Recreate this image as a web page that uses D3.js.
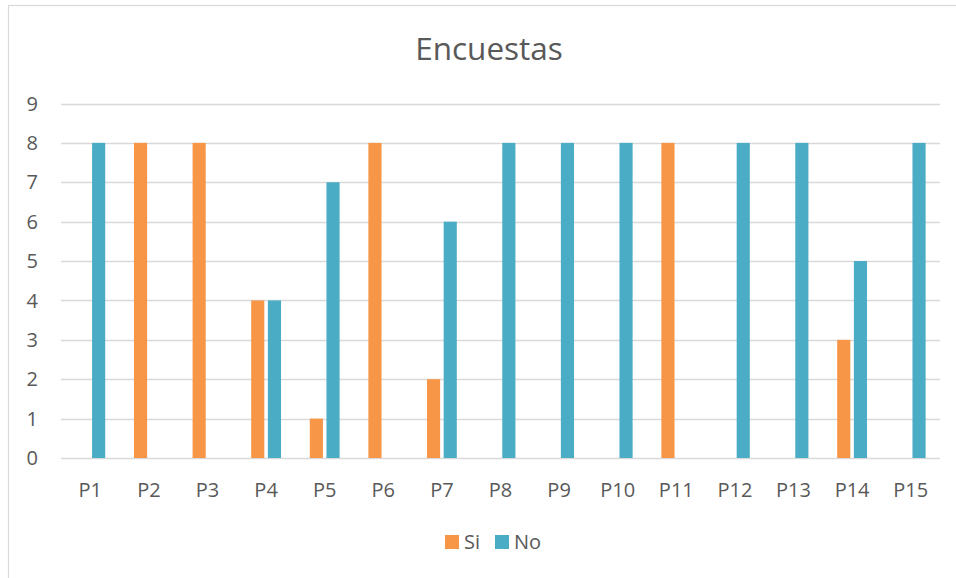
<!DOCTYPE html>
<html>
<head>
<meta charset="utf-8">
<script src="https://cdn.jsdelivr.net/npm/d3@7"></script>
<style>
  html, body { margin: 0; padding: 0; background: #fff; }
  svg { display: block; font-family: "Open Sans", sans-serif; }
</style>
</head>
<body>
<svg id="chart" width="956" height="578"></svg>
<script>
// Survey answers per question
const categories = ["P1","P2","P3","P4","P5","P6","P7","P8","P9","P10","P11","P12","P13","P14","P15"];
const seriesNames = ["Si", "No"];
const siValues = [0, 8, 8, 4, 1, 8, 2, 0, 0, 0, 8, 0, 0, 3, 0];
const noValues = [8, 0, 0, 4, 7, 0, 6, 8, 8, 8, 0, 8, 8, 5, 8];
const yTicks = [0, 1, 2, 3, 4, 5, 6, 7, 8, 9];
const colors = { Si: "#F79646", No: "#4BACC6" };

const svg = d3.select("#chart");
const textColor = "#595959";
const gridColor = "#d9d9d9";

// outer chart frame
svg.append("rect")
  .attr("x", 8.5).attr("y", 5.5)
  .attr("width", 960).attr("height", 590)
  .attr("fill", "#fff")
  .attr("stroke", "#d9d9d9").attr("stroke-width", 1.2);

const plot = { left: 61, right: 940, top: 103.5, bottom: 458 };

const y = d3.scaleLinear().domain([0, 9]).range([plot.bottom, plot.top]);

// category bands: two bars + gap take ~51% of each slot
const groupPad = 0.491;
const x0 = d3.scaleBand().domain(categories)
  .range([plot.left, plot.right])
  .paddingInner(groupPad).paddingOuter(groupPad / 2);
const x1 = d3.scaleBand().domain(seriesNames)
  .range([0, x0.bandwidth()])
  .paddingInner(0.2126);

// gridlines
svg.append("g")
  .selectAll("line")
  .data(yTicks)
  .join("line")
  .attr("x1", plot.left).attr("x2", plot.right)
  .attr("y1", d => Math.round(y(d)) + 0.5)
  .attr("y2", d => Math.round(y(d)) + 0.5)
  .attr("stroke", gridColor)
  .attr("stroke-width", 1.3);

// y tick labels
svg.append("g")
  .selectAll("text")
  .data(yTicks)
  .join("text")
  .attr("x", 38)
  .attr("y", d => y(d))
  .attr("dy", "0.36em")
  .attr("text-anchor", "end")
  .attr("font-size", 20)
  .attr("fill", textColor)
  .text(d => d);

// bars
const rows = categories.map((c, i) => ({ cat: c, Si: siValues[i], No: noValues[i] }));
const groups = svg.append("g")
  .selectAll("g")
  .data(rows)
  .join("g")
  .attr("transform", d => `translate(${x0(d.cat)},0)`);

groups.selectAll("rect")
  .data(d => seriesNames.map(k => ({ key: k, value: d[k] })))
  .join("rect")
  .attr("x", d => x1(d.key))
  .attr("width", x1.bandwidth())
  .attr("y", d => y(d.value))
  .attr("height", d => y(0) - y(d.value))
  .attr("fill", d => colors[d.key]);

// x category labels
svg.append("g")
  .selectAll("text")
  .data(categories)
  .join("text")
  .attr("x", d => x0(d) + x0.bandwidth() / 2)
  .attr("y", 497)
  .attr("text-anchor", "middle")
  .attr("font-size", 20)
  .attr("fill", textColor)
  .text(d => d);

// title
svg.append("text")
  .attr("x", 489)
  .attr("y", 60)
  .attr("text-anchor", "middle")
  .attr("font-size", 31.5)
  .attr("fill", textColor)
  .text("Encuestas");

// legend
const legendItems = [
  { key: "Si", x: 445 },
  { key: "No", x: 495 }
];
const legend = svg.append("g");
legend.selectAll("rect")
  .data(legendItems)
  .join("rect")
  .attr("x", d => d.x).attr("y", 535)
  .attr("width", 14).attr("height", 14)
  .attr("fill", d => colors[d.key]);
legend.selectAll("text")
  .data(legendItems)
  .join("text")
  .attr("x", d => d.x + 19)
  .attr("y", 549)
  .attr("font-size", 20)
  .attr("fill", textColor)
  .text(d => d.key);
</script>
</body>
</html>
